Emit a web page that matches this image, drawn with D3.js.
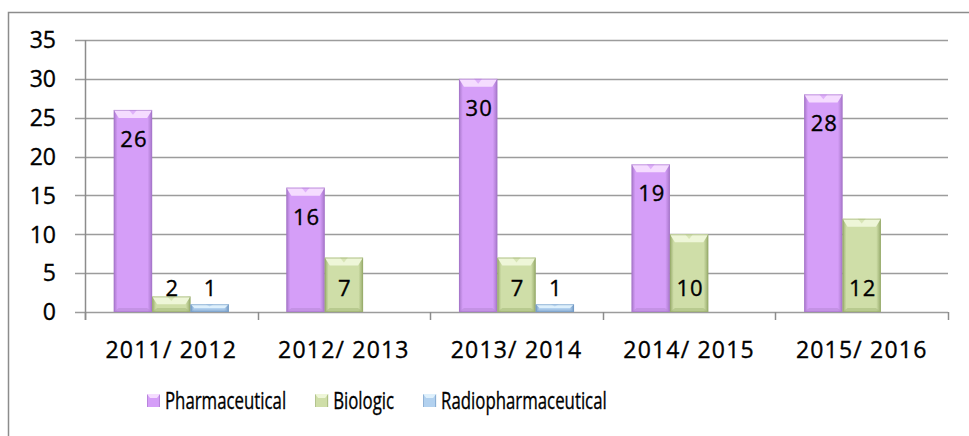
<!DOCTYPE html>
<html>
<head>
<meta charset="utf-8">
<script src="https://cdn.jsdelivr.net/npm/d3@7"></script>
<style>
  body { margin: 0; background: #fff; }
  svg { display: block; font-family: "Open Sans", sans-serif; }
  svg text { fill: #000; stroke: #000; stroke-width: 0.35px; }
</style>
</head>
<body>
<div id="chart"></div>
<script>
// data
const years = ["2011/ 2012", "2012/ 2013", "2013/ 2014", "2014/ 2015", "2015/ 2016"];
const seriesNames = ["Pharmaceutical", "Biologic", "Radiopharmaceutical"];
const pharmaceutical = [26, 16, 30, 19, 28];
const biologic = [2, 7, 7, 10, 12];
const radiopharmaceutical = [1, null, 1, null, null];
const yTicks = [0, 5, 10, 15, 20, 25, 30, 35];

const seriesValues = [pharmaceutical, biologic, radiopharmaceutical];

const width = 969, height = 436;
const margin = { top: 40, right: 21, bottom: 124, left: 85 };

// light body, dark edge, light top cap
const palette = {
  Pharmaceutical: { body: "#d59ef8", edge: "#a676c9", cap: "#f5dcff", base: "#b98ad9" },
  Biologic: { body: "#cfdea8", edge: "#97ab6b", cap: "#eef6d8", base: "#a9bc7f" },
  Radiopharmaceutical: { body: "#b2d1ef", edge: "#7198c3", cap: "#def0fc", base: "#89acd2" }
};

const svg = d3.select("#chart")
  .append("svg")
  .attr("width", width)
  .attr("height", height);

// outer chart border (right/bottom run off the picture)
svg.append("rect")
  .attr("x", 8.5)
  .attr("y", 12.5)
  .attr("width", 990)
  .attr("height", 460)
  .attr("fill", "none")
  .attr("stroke", "#8c8c8c")
  .attr("stroke-width", 1.5);

const defs = svg.append("defs");
seriesNames.forEach((name, i) => {
  const c = palette[name];
  const g = defs.append("linearGradient")
    .attr("id", "grad" + i)
    .attr("x1", "0").attr("x2", "1").attr("y1", "0").attr("y2", "0");
  g.append("stop").attr("offset", "0").attr("stop-color", c.edge);
  g.append("stop").attr("offset", "0.1").attr("stop-color", c.body);
  g.append("stop").attr("offset", "0.5").attr("stop-color", c.body);
  g.append("stop").attr("offset", "0.88").attr("stop-color", c.body);
  g.append("stop").attr("offset", "1").attr("stop-color", c.edge);
});

const x0 = d3.scaleBand()
  .domain(years)
  .range([margin.left, width - margin.right])
  .padding(0);

const x1 = d3.scaleBand()
  .domain(seriesNames)
  .range([0, x0.bandwidth()])
  .paddingInner(0)
  .paddingOuter(0.75);

const y = d3.scaleLinear()
  .domain([0, 35])
  .range([height - margin.bottom, margin.top]);

// gridlines + y ticks
svg.append("g")
  .selectAll("line")
  .data(yTicks)
  .join("line")
  .attr("x1", margin.left - 10)
  .attr("x2", width - margin.right)
  .attr("y1", d => Math.round(y(d)) + 0.5)
  .attr("y2", d => Math.round(y(d)) + 0.5)
  .attr("stroke", "#9c9c9c")
  .attr("stroke-width", 1.5);

svg.append("g")
  .selectAll("text")
  .data(yTicks)
  .join("text")
  .attr("x", 56)
  .attr("y", d => y(d))
  .attr("dy", "0.36em")
  .attr("text-anchor", "end")
  .style("font-size", "23px")
  .text(d => d);

// y axis line
svg.append("line")
  .attr("x1", margin.left + 0.5).attr("x2", margin.left + 0.5)
  .attr("y1", y(35)).attr("y2", y(0) + 8)
  .attr("stroke", "#8c8c8c")
  .attr("stroke-width", 1.5);

// x tick marks at category boundaries
const bounds = years.map(d => x0(d)).concat([width - margin.right]);
svg.append("g")
  .selectAll("line")
  .data(bounds)
  .join("line")
  .attr("x1", d => Math.round(d) + 0.5)
  .attr("x2", d => Math.round(d) + 0.5)
  .attr("y1", y(0))
  .attr("y2", y(0) + 8)
  .attr("stroke", "#8c8c8c")
  .attr("stroke-width", 1.5);

svg.append("g")
  .selectAll("text")
  .data(years)
  .join("text")
  .attr("x", d => x0(d) + x0.bandwidth() / 2)
  .attr("y", 358)
  .attr("text-anchor", "middle")
  .style("font-size", "23px")
  .style("letter-spacing", "1.2px")
  .text(d => d);

// draw a bevelled bar
function drawBar(g, bx, by, bw, bh, i) {
  const c = palette[seriesNames[i]];
  g.append("rect")
    .attr("x", bx).attr("y", by)
    .attr("width", bw).attr("height", bh)
    .attr("fill", `url(#grad${i})`);
  const cap = Math.min(8, bh / 2);
  const inset = Math.min(5, cap);
  g.append("polygon")
    .attr("points", [[bx, by], [bx + bw, by], [bx + bw - inset, by + cap], [bx + inset, by + cap]].join(" "))
    .attr("fill", c.cap);
  g.append("polygon")
    .attr("points", [[bx + bw / 2 - 4, by], [bx + bw / 2 + 4, by], [bx + bw / 2, by + cap * 0.6]].join(" "))
    .attr("fill", c.body)
    .attr("opacity", 0.7);
  const base = Math.min(4, bh / 3);
  g.append("polygon")
    .attr("points", [[bx + inset, by + bh - base], [bx + bw - inset, by + bh - base], [bx + bw, by + bh], [bx, by + bh]].join(" "))
    .attr("fill", c.base)
    .attr("opacity", 0.6);
  g.append("rect")
    .attr("x", bx + 0.5).attr("y", by + 0.5)
    .attr("width", bw - 1).attr("height", Math.max(0, bh - 1))
    .attr("fill", "none")
    .attr("stroke", c.edge)
    .attr("stroke-opacity", 0.6);
}

const bars = svg.append("g");
seriesNames.forEach((name, i) => {
  seriesValues[i].forEach((v, j) => {
    if (v == null) return;
    const bx = x0(years[j]) + x1(name);
    const by = y(v);
    drawBar(bars, bx, by, x1.bandwidth(), y(0) - by, i);
  });
});

// data labels: first series inside end, others inside base
const labels = svg.append("g");
seriesNames.forEach((name, i) => {
  seriesValues[i].forEach((v, j) => {
    if (v == null) return;
    const cx = x0(years[j]) + x1(name) + x1.bandwidth() / 2;
    const cy = i === 0 ? y(v) + 29 : y(0) - 24;
    labels.append("text")
      .attr("x", cx + 1)
      .attr("y", cy)
      .attr("dy", "0.36em")
      .attr("text-anchor", "middle")
      .style("font-size", "22px")
      .style("letter-spacing", "1px")
      .text(v);
  });
});

// legend
const legend = svg.append("g");
let lx = 147;
seriesNames.forEach((name, i) => {
  const c = palette[name];
  legend.append("rect")
    .attr("x", lx).attr("y", 394)
    .attr("width", 13).attr("height", 13)
    .attr("fill", `url(#grad${i})`);
  legend.append("polygon")
    .attr("points", [[lx, 394], [lx + 13, 394], [lx + 10, 398], [lx + 3, 398]].join(" "))
    .attr("fill", c.cap);
  const t = legend.append("text")
    .attr("x", lx + 18)
    .attr("y", 409)
    .style("font-size", "24px")
    .text(name);
  const w = t.node().getComputedTextLength() * 0.7;
  t.attr("textLength", w).attr("lengthAdjust", "spacingAndGlyphs");
  lx += 18 + w + 29;
});
</script>
</body>
</html>
